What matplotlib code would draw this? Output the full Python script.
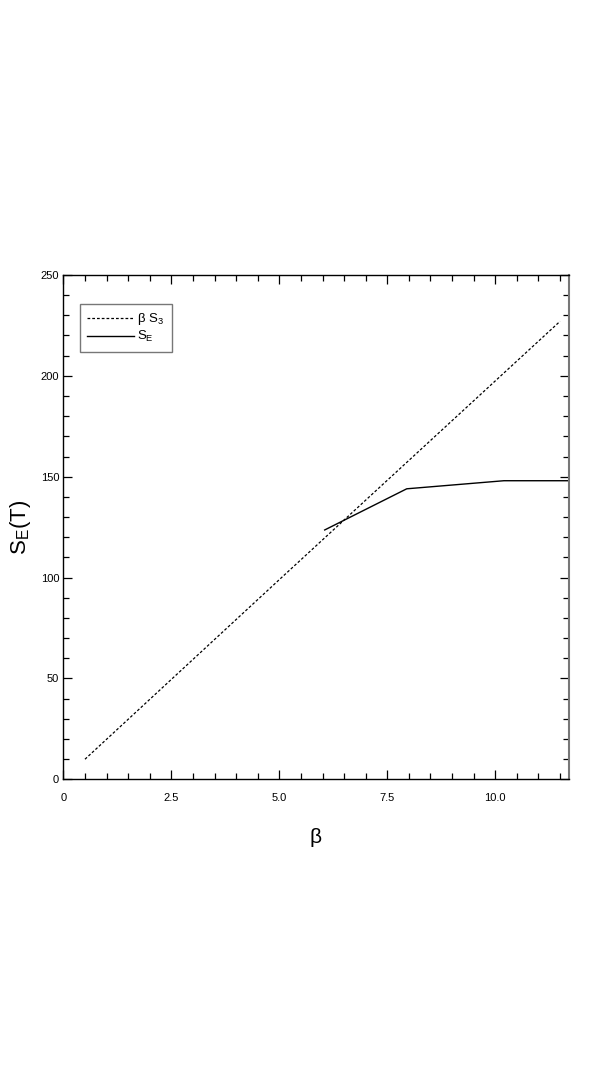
import matplotlib
matplotlib.use("Agg")
import matplotlib.pyplot as plt
from matplotlib.ticker import MultipleLocator, FixedLocator, FixedFormatter

# --- DATOS ---
beta_s3_x = [0.5, 5.0, 11.5]
beta_s3_y = [10, 99, 227]

se_x = [6.05, 7.95, 10.2, 11.7]
se_y = [123.6, 144, 148, 148]

x_ticks = [0, 2.5, 5.0, 7.5, 10.0]
x_tick_labels = ["0", "2.5", "5.0", "7.5", "10.0"]
y_ticks = [0, 50, 100, 150, 200, 250]
y_tick_labels = ["0", "50", "100", "150", "200", "250"]

FUENTE = ["Liberation Sans Narrow", "Liberation Sans", "DejaVu Sans"]
plt.rcParams["font.family"] = FUENTE
plt.rcParams["mathtext.fontset"] = "custom"
plt.rcParams["mathtext.rm"] = "Liberation Sans"
plt.rcParams["mathtext.it"] = "Liberation Sans"

fig = plt.figure(figsize=(5.98, 10.78), dpi=100)
ax = fig.add_axes([0.106, 0.277, 0.845, 0.468])

ax.plot(beta_s3_x, beta_s3_y, color="black", linestyle=(0, (2.2, 1.6)),
        linewidth=0.9, label=r"$\beta$ S$_3$")
ax.plot(se_x, se_y, color="black", linestyle="-", linewidth=1.0, label=r"S$_E$")

ax.set_xlim(0, 11.7)
ax.set_ylim(0, 250)

ax.xaxis.set_major_locator(FixedLocator(x_ticks))
ax.xaxis.set_major_formatter(FixedFormatter(x_tick_labels))
ax.xaxis.set_minor_locator(MultipleLocator(0.5))
ax.yaxis.set_major_locator(FixedLocator(y_ticks))
ax.yaxis.set_major_formatter(FixedFormatter(y_tick_labels))
ax.yaxis.set_minor_locator(MultipleLocator(10))

ax.tick_params(which="both", direction="in", top=True, right=True,
               labelsize=8, width=0.9, color="black")
ax.tick_params(which="major", length=6.5)
ax.tick_params(which="minor", length=4)
ax.tick_params(axis="x", which="major", pad=10)
ax.tick_params(axis="y", which="major", pad=3)

for lado in ["left", "bottom", "top"]:
    ax.spines[lado].set_linewidth(1.0)
    ax.spines[lado].set_color("black")
ax.spines["right"].set_linewidth(1.5)
ax.spines["right"].set_color("#777777")

ax.set_xlabel(r"$\beta$", fontsize=15)
ax.xaxis.set_label_coords(0.5, -0.093)
ax.set_ylabel(r"S$_E$(T)", fontsize=16)
ax.yaxis.set_label_coords(-0.06, 0.5)

leg = ax.legend(loc="upper left", bbox_to_anchor=(0.033, 0.942), fontsize=9.5,
                frameon=True, fancybox=False, handlelength=3.5,
                handletextpad=0.3, borderpad=0.55, labelspacing=0.15,
                borderaxespad=0)
leg.get_frame().set_edgecolor("#555555")
leg.get_frame().set_linewidth(1.0)

fig.savefig("out.png", dpi=100)
